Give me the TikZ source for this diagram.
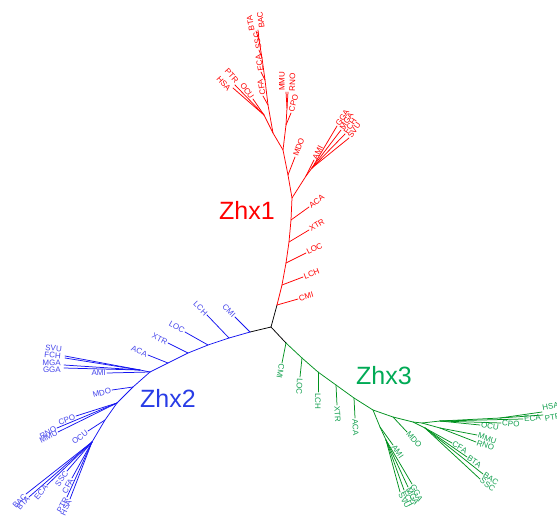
\documentclass[tikz,border=0pt]{standalone}
\usepackage{fontspec}
\setmainfont{Liberation Sans}
\definecolor{rc}{RGB}{255,0,0}
\definecolor{bc}{RGB}{20,20,240}
\definecolor{bt}{RGB}{70,70,235}
\definecolor{bz}{RGB}{40,60,230}
\definecolor{gc}{RGB}{0,145,30}
\definecolor{gt}{RGB}{20,160,80}
\definecolor{gz}{RGB}{0,170,85}
\begin{document}
\begin{tikzpicture}[x=1pt,y=-1pt,
 edge/.style={line width=0.75pt,line cap=round},
 re/.style={edge,draw=rc}, be/.style={edge,draw=bc}, ge/.style={edge,draw=gc}, ke/.style={edge,draw=black},
 lab/.style={font=\fontsize{8}{9}\selectfont,inner sep=1pt},
 rl/.style={lab,text=rc}, bl/.style={lab,text=bt}, gl/.style={lab,text=gt},
 big/.style={font=\fontsize{25}{28}\selectfont,inner sep=0pt}]
\useasboundingbox (0,0) rectangle (557,515);
% ---------- centre
\coordinate (c) at (271,327);
\coordinate (rR) at (277,305);
\coordinate (bR) at (250,332);
\coordinate (gR) at (286,343);
\draw[ke] (c) -- (rR); \draw[ke] (c) -- (bR); \draw[ke] (c) -- (gR);
% ---------- red clade
\coordinate (r2) at (282,285); \coordinate (r3) at (286,263);
\coordinate (r4) at (289,242); \coordinate (r5) at (291,220);
\coordinate (rA) at (292,198); \coordinate (rB) at (288,175);
\coordinate (rC) at (283,150); \coordinate (rD) at (273,133);
\coordinate (rAM) at (306,176); \coordinate (rG) at (312,168);
\coordinate (rCP) at (286,125); \coordinate (rMR) at (287,108);
\coordinate (rP) at (264,115);
\coordinate (rE1) at (268,105); \coordinate (rE2) at (265,80);
\coordinate (rE3) at (262,58); \coordinate (rE4) at (259,40);
\coordinate (rtCMI) at (298,299); \coordinate (rtLCH) at (303,277);
\coordinate (rtLOC) at (306,253); \coordinate (rtXTR) at (309,230);
\coordinate (rtACA) at (309,207); \coordinate (rtAMI) at (314,160);
\coordinate (rtGGA) at (337,126); \coordinate (rtMGA) at (341,130);
\coordinate (rtFCH) at (345,134); \coordinate (rtSVU) at (349,138);
\coordinate (rtMDO) at (295,157); \coordinate (rtCPO) at (291,113);
\coordinate (rtMMU) at (286,92); \coordinate (rtRNO) at (288,92);
\coordinate (rtOCU) at (253,99); \coordinate (rtPTR) at (235,85);
\coordinate (rtHSA) at (233,88); \coordinate (rtCFA) at (263,96);
\coordinate (rtECA) at (261,72); \coordinate (rtSSC) at (259,50);
\coordinate (rtBTA) at (256,31); \coordinate (rtBAC) at (258,30);
\draw[re] (rR) -- (r2) -- (r3) -- (r4) -- (r5) -- (rA) -- (rB) -- (rC) -- (rD) -- (rE1) -- (rE2) -- (rE3) -- (rE4);
\draw[re] (rR) -- (rtCMI); \draw[re] (r2) -- (rtLCH); \draw[re] (r3) -- (rtLOC);
\draw[re] (r4) -- (rtXTR); \draw[re] (r5) -- (rtACA);
\draw[re] (rA) -- (rAM) -- (rtAMI); \draw[re] (rAM) -- (rG);
\draw[re] (rG) -- (rtGGA); \draw[re] (rG) -- (rtMGA); \draw[re] (rG) -- (rtFCH); \draw[re] (rG) -- (rtSVU);
\draw[re] (rB) -- (rtMDO);
\draw[re] (rC) -- (rCP) -- (rtCPO); \draw[re] (rCP) -- (rMR);
\draw[re] (rMR) -- (rtMMU); \draw[re] (rMR) -- (rtRNO);
\draw[re] (rD) -- (rP) -- (rtOCU); \draw[re] (rP) -- (rtPTR); \draw[re] (rP) -- (rtHSA);
\draw[re] (rE1) -- (rtCFA); \draw[re] (rE2) -- (rtECA); \draw[re] (rE3) -- (rtSSC);
\draw[re] (rE4) -- (rtBTA); \draw[re] (rE4) -- (rtBAC);
\node[rl,anchor=west,rotate=16] (rlCMI) at (rtCMI) {CMI};
\node[rl,anchor=west,rotate=21] (rlLCH) at (rtLCH) {LCH};
\node[rl,anchor=west,rotate=27] (rlLOC) at (rtLOC) {LOC};
\node[rl,anchor=west,rotate=31] (rlXTR) at (rtXTR) {XTR};
\node[rl,anchor=west,rotate=36] (rlACA) at (rtACA) {ACA};
\node[rl,anchor=west,rotate=63] (rlAMI) at (rtAMI) {AMI};
\node[rl,anchor=west,rotate=57] (rlGGA) at (rtGGA) {GGA};
\node[rl,anchor=west,rotate=57] (rlMGA) at (rtMGA) {MGA};
\node[rl,anchor=west,rotate=57] (rlFCH) at (rtFCH) {FCH};
\node[rl,anchor=west,rotate=57] (rlSVU) at (rtSVU) {SVU};
\node[rl,anchor=west,rotate=70] (rlMDO) at (rtMDO) {MDO};
\node[rl,anchor=west,rotate=75] (rlCPO) at (rtCPO) {CPO};
\node[rl,anchor=south west,rotate=90] (rlMMU) at (rtMMU) {MMU};
\node[rl,anchor=north west,rotate=88] (rlRNO) at (rtRNO) {RNO};
\node[rl,anchor=east,rotate=-55] (rlOCU) at (rtOCU) {OCU};
\node[rl,anchor=south east,rotate=-48] (rlPTR) at (rtPTR) {PTR};
\node[rl,anchor=north east,rotate=-48] (rlHSA) at (rtHSA) {HSA};
\node[rl,anchor=west,rotate=100] (rlCFA) at (rtCFA) {CFA};
\node[rl,anchor=west,rotate=100] (rlECA) at (rtECA) {ECA};
\node[rl,anchor=west,rotate=100] (rlSSC) at (rtSSC) {SSC};
\node[rl,anchor=south west,rotate=100] (rlBTA) at (rtBTA) {BTA};
\node[rl,anchor=north west,rotate=98] (rlBAC) at (rtBAC) {BAC};
\node[big,text=rc] (z1) at (247,210) {Zhx1};
% ---------- blue clade
\coordinate (b2) at (229,338); \coordinate (b3) at (208,345);
\coordinate (b4) at (188,353); \coordinate (b5) at (168,363);
\coordinate (bA) at (150,372); \coordinate (bB) at (133,387);
\coordinate (bC) at (117,403); \coordinate (bC2) at (105,420);
\coordinate (bD) at (92,442); \coordinate (bG) at (140,370);
\coordinate (btCMI) at (235,317); \coordinate (btLCH) at (207,315);
\coordinate (btLOC) at (185,332); \coordinate (btXTR) at (168,343);
\coordinate (btACA) at (148,355); \coordinate (btAMI) at (107,373);
\coordinate (btSVU) at (65,356); \coordinate (btFCH) at (65,358);
\coordinate (btMGA) at (64,365); \coordinate (btGGA) at (64,368);
\coordinate (btMDO) at (112,390); \coordinate (btCPO) at (76,416);
\coordinate (btRNO) at (57,428); \coordinate (btMMU) at (58,432);
\coordinate (btOCU) at (88,431);
\coordinate (btBAC) at (26,494); \coordinate (btBTA) at (29,497);
\coordinate (btECA) at (47,485); \coordinate (btSSC) at (67,471);
\coordinate (btCFA) at (72,478); \coordinate (btPTR) at (67,497);
\coordinate (btHSA) at (70,499);
\draw[be] (bR) -- (b2) -- (b3) -- (b4) -- (b5) -- (bA) -- (bB) -- (bC) -- (bC2) -- (bD);
\draw[be] (bR) -- (btCMI); \draw[be] (b2) -- (btLCH); \draw[be] (b3) -- (btLOC);
\draw[be] (b4) -- (btXTR); \draw[be] (b5) -- (btACA);
\draw[be] (bA) -- (btAMI); \draw[be] (bA) -- (bG);
\draw[be] (bG) -- (btSVU); \draw[be] (bG) -- (btFCH); \draw[be] (bG) -- (btMGA); \draw[be] (bG) -- (btGGA);
\draw[be] (bB) -- (btMDO);
\draw[be] (bC) -- (btCPO); \draw[be] (bC) -- (btRNO); \draw[be] (bC) -- (btMMU);
\draw[be] (bC2) -- (btOCU);
\draw[be] (bD) -- (btBAC); \draw[be] (bD) -- (btBTA); \draw[be] (bD) -- (btECA); \draw[be] (bD) -- (btSSC);
\draw[be] (bD) -- (btCFA); \draw[be] (bD) -- (btPTR); \draw[be] (bD) -- (btHSA);
\node[bl,anchor=east,rotate=-45] (blCMI) at (btCMI) {CMI};
\node[bl,anchor=east,rotate=-45] (blLCH) at (btLCH) {LCH};
\node[bl,anchor=east,rotate=-30] (blLOC) at (btLOC) {LOC};
\node[bl,anchor=east,rotate=-27] (blXTR) at (btXTR) {XTR};
\node[bl,anchor=east,rotate=-22] (blACA) at (btACA) {ACA};
\node[bl,anchor=east,rotate=0] (blAMI) at (btAMI) {AMI};
\node[bl,anchor=east,rotate=-5] (blSVU) at (63,349) {SVU};
\node[bl,anchor=east,rotate=-4] (blFCH) at (62,356) {FCH};
\node[bl,anchor=east,rotate=-2] (blMGA) at (62,363) {MGA};
\node[bl,anchor=east,rotate=0] (blGGA) at (62,370) {GGA};
\node[bl,anchor=east,rotate=15] (blMDO) at (btMDO) {MDO};
\node[bl,anchor=east,rotate=22] (blCPO) at (btCPO) {CPO};
\node[bl,anchor=east,rotate=28] (blRNO) at (btRNO) {RNO};
\node[bl,anchor=east,rotate=28] (blMMU) at (btMMU) {MMU};
\node[bl,anchor=east,rotate=38] (blOCU) at (btOCU) {OCU};
\node[bl,anchor=east,rotate=48] (blBAC) at (btBAC) {BAC};
\node[bl,anchor=east,rotate=48] (blBTA) at (btBTA) {BTA};
\node[bl,anchor=east,rotate=50] (blECA) at (btECA) {ECA};
\node[bl,anchor=east,rotate=55] (blSSC) at (btSSC) {SSC};
\node[bl,anchor=east,rotate=62] (blCFA) at (btCFA) {CFA};
\node[bl,anchor=east,rotate=62] (blPTR) at (btPTR) {PTR};
\node[bl,anchor=east,rotate=65] (blHSA) at (btHSA) {HSA};
\node[big,text=bz] (z2) at (168,398) {Zhx2};
% ---------- green clade
\coordinate (g2) at (302,358); \coordinate (g3) at (318,372);
\coordinate (g4) at (336,385); \coordinate (g5) at (354,398);
\coordinate (gA) at (373,410); \coordinate (gB) at (393,417);
\coordinate (gJ) at (413,422); \coordinate (gK) at (422,423);
\coordinate (gAM) at (380,427); \coordinate (gG) at (386,440);
\coordinate (gC) at (425,428); \coordinate (gM) at (440,428);
\coordinate (gT) at (440,421); \coordinate (gH) at (500,418);
\coordinate (gtCMI) at (282,363); \coordinate (gtLOC) at (300,377);
\coordinate (gtLCH) at (318,392); \coordinate (gtXTR) at (337,405);
\coordinate (gtACA) at (355,418); \coordinate (gtAMI) at (393,445);
\coordinate (gtGGA) at (412,484); \coordinate (gtMGA) at (408,487);
\coordinate (gtFCH) at (404,490); \coordinate (gtSVU) at (400,492);
\coordinate (gtMDO) at (407,432);
\coordinate (gtCFA) at (452,443); \coordinate (gtBTA) at (467,457);
\coordinate (gtBAC) at (483,474); \coordinate (gtSSC) at (480,479);
\coordinate (gtMMU) at (477,435); \coordinate (gtRNO) at (476,442);
\coordinate (gtOCU) at (480,425); \coordinate (gtCPO) at (501,423);
\coordinate (gtECA) at (523,419); \coordinate (gtHSA) at (542,412);
\coordinate (gtPTR) at (543,415);
\draw[ge] (gR) -- (g2) -- (g3) -- (g4) -- (g5) -- (gA) -- (gB) -- (gJ) -- (gK);
\draw[ge] (gR) -- (gtCMI); \draw[ge] (g2) -- (gtLOC); \draw[ge] (g3) -- (gtLCH);
\draw[ge] (g4) -- (gtXTR); \draw[ge] (g5) -- (gtACA);
\draw[ge] (gA) -- (gAM) -- (gtAMI); \draw[ge] (gAM) -- (gG);
\draw[ge] (gG) -- (gtGGA); \draw[ge] (gG) -- (gtMGA); \draw[ge] (gG) -- (gtFCH); \draw[ge] (gG) -- (gtSVU);
\draw[ge] (gB) -- (gtMDO);
\draw[ge] (gJ) -- (gC);
\draw[ge] (gC) -- (gtCFA); \draw[ge] (gC) -- (gtBTA); \draw[ge] (gC) -- (gtBAC); \draw[ge] (gC) -- (gtSSC);
\draw[ge] (gK) -- (gM); \draw[ge] (gM) -- (gtMMU); \draw[ge] (gM) -- (gtRNO);
\draw[ge] (gK) -- (gT); \draw[ge] (gT) -- (gtOCU); \draw[ge] (gT) -- (gtCPO); \draw[ge] (gT) -- (gtECA);
\draw[ge] (gT) -- (gH); \draw[ge] (gH) -- (gtHSA); \draw[ge] (gH) -- (gtPTR);
\node[gl,anchor=west,rotate=-100] (glCMI) at (gtCMI) {CMI};
\node[gl,anchor=west,rotate=-93] (glLOC) at (gtLOC) {LOC};
\node[gl,anchor=west,rotate=-90] (glLCH) at (gtLCH) {LCH};
\node[gl,anchor=west,rotate=-87] (glXTR) at (gtXTR) {XTR};
\node[gl,anchor=west,rotate=-87] (glACA) at (gtACA) {ACA};
\node[gl,anchor=west,rotate=-55] (glAMI) at (gtAMI) {AMI};
\node[gl,anchor=west,rotate=-62] (glGGA) at (gtGGA) {GGA};
\node[gl,anchor=west,rotate=-62] (glMGA) at (gtMGA) {MGA};
\node[gl,anchor=west,rotate=-62] (glFCH) at (gtFCH) {FCH};
\node[gl,anchor=west,rotate=-62] (glSVU) at (gtSVU) {SVU};
\node[gl,anchor=west,rotate=-48] (glMDO) at (gtMDO) {MDO};
\node[gl,anchor=west,rotate=-30] (glCFA) at (gtCFA) {CFA};
\node[gl,anchor=west,rotate=-33] (glBTA) at (gtBTA) {BTA};
\node[gl,anchor=west,rotate=-33] (glBAC) at (gtBAC) {BAC};
\node[gl,anchor=west,rotate=-36] (glSSC) at (gtSSC) {SSC};
\node[gl,anchor=west,rotate=-18] (glMMU) at (gtMMU) {MMU};
\node[gl,anchor=west,rotate=-20] (glRNO) at (gtRNO) {RNO};
\node[gl,anchor=west,rotate=-8] (glOCU) at (gtOCU) {OCU};
\node[gl,anchor=west,rotate=-5] (glCPO) at (gtCPO) {CPO};
\node[gl,anchor=west,rotate=5] (glECA) at (gtECA) {ECA};
\node[gl,anchor=south west,rotate=10] (glHSA) at (gtHSA) {HSA};
\node[gl,anchor=north west,rotate=10] (glPTR) at (gtPTR) {PTR};
\node[big,text=gz] (z3) at (384,376) {Zhx3};
\end{tikzpicture}
\end{document}
